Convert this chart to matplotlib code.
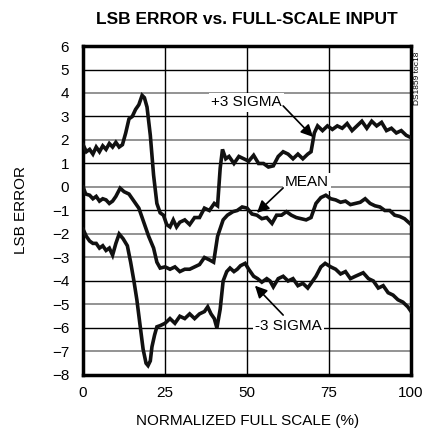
import matplotlib
matplotlib.use("Agg")
import matplotlib.pyplot as plt

plt.rcParams['font.family'] = ['Liberation Sans Narrow', 'Liberation Sans', 'DejaVu Sans']

# ---- data ----
plus3_x = [0, 1, 2, 3, 4, 5, 6, 7, 8, 9, 10, 11, 12, 13, 14, 15, 16, 17, 18, 18.7, 19.5, 20.5,
           21.5, 22.5, 23.5, 24.5, 25.5, 26.5, 27.5, 28.5, 29.5, 31, 32.5, 34, 35.5, 37, 38.5, 40,
           41, 41.8, 42.5, 43.5, 44.5, 46, 47.5, 49, 50.5, 52, 53.5, 55, 56.5, 58, 59.5, 61, 62.5,
           64, 65.5, 67, 68.5, 69.5, 70.5, 71.5, 73, 74.5, 76, 77.5, 79, 80.5, 82, 83.5, 85, 86.5,
           88, 89.5, 91, 92.5, 94, 95.5, 97, 98.5, 100]
plus3_y = [1.8, 1.5, 1.6, 1.4, 1.7, 1.5, 1.75, 1.6, 1.85, 1.7, 1.9, 1.7, 1.8, 2.3, 2.9, 3.0, 3.3,
           3.5, 3.9, 3.8, 3.4, 2.2, 0.5, -0.7, -1.1, -1.2, -1.6, -1.7, -1.4, -1.7, -1.5, -1.4, -1.6,
           -1.3, -1.3, -0.9, -1.0, -0.7, -0.8, 0.8, 1.6, 1.2, 1.3, 1.0, 1.3, 1.2, 1.1, 1.35, 1.0,
           1.0, 0.85, 0.9, 1.3, 1.5, 1.4, 1.2, 1.4, 1.2, 1.4, 1.5, 2.3, 2.6, 2.4, 2.6, 2.45, 2.6,
           2.5, 2.7, 2.4, 2.6, 2.8, 2.5, 2.8, 2.6, 2.75, 2.4, 2.5, 2.3, 2.4, 2.2, 2.1]

mean_x = [0, 0.8, 2, 3, 4, 5, 6, 7, 8, 9, 10, 11.3, 12.5, 14, 15.5, 17, 18.5, 20, 21.5, 22.5,
          23.5, 25, 26.5, 28, 29.5, 31, 32.5, 34, 35.5, 37, 38.5, 39.8, 41, 42.7, 44, 45.7, 47,
          48.5, 50, 51.5, 53, 54.5, 56, 57.6, 59, 60.5, 62, 63.5, 65, 66.5, 68, 69.5, 71, 72.5,
          74, 75.5, 77, 78.5, 80, 81.5, 83, 84.5, 86, 87.5, 89, 90.5, 92, 93.5, 95, 96.5, 98, 100]
mean_y = [0.0, -0.3, -0.35, -0.5, -0.4, -0.6, -0.5, -0.55, -0.7, -0.6, -0.4, -0.05, -0.2, -0.3,
          -0.6, -0.9, -1.5, -2.1, -2.6, -3.2, -3.45, -3.4, -3.5, -3.4, -3.6, -3.5, -3.5, -3.4,
          -3.3, -3.0, -3.1, -3.2, -2.1, -1.4, -1.2, -1.05, -1.0, -0.85, -0.9, -1.15, -1.2, -1.35,
          -1.3, -1.55, -1.2, -1.2, -1.05, -1.2, -1.3, -1.35, -1.4, -1.3, -0.7, -0.45, -0.35,
          -0.5, -0.55, -0.65, -0.6, -0.75, -0.7, -0.65, -0.5, -0.7, -0.8, -0.85, -1.0, -1.0,
          -1.2, -1.25, -1.35, -1.6]

minus3_x = [0, 1, 2, 3, 4, 5, 6, 7, 8, 9, 10, 11, 12.2, 13.5, 14.5, 15.5, 16.4, 17.3, 18.3, 19.2,
            19.8, 20.5, 21, 21.8, 22.5, 23.5, 25, 26.5, 28, 29.5, 31, 32.5, 34, 35.5, 37, 38, 39,
            40, 40.8, 41.8, 42.7, 43.8, 44.8, 46, 47, 48, 49.4, 50.5, 52, 53.2, 54.5, 56, 57, 58,
            59.5, 61, 62.5, 64, 65.5, 67, 68.5, 70, 71, 72.5, 73.8, 75.5, 77, 78.5, 80, 81.5, 83,
            85.4, 87, 88.5, 90, 91.5, 93, 94.5, 96, 97.5, 99, 100]
minus3_y = [-1.8, -2.1, -2.3, -2.4, -2.4, -2.6, -2.5, -2.7, -2.6, -2.9, -2.4, -2.0, -2.2, -2.5,
            -3.2, -4.0, -4.8, -5.8, -6.9, -7.5, -7.6, -7.4, -6.8, -6.3, -5.95, -5.9, -5.8, -5.6,
            -5.8, -5.5, -5.6, -5.4, -5.6, -5.4, -5.3, -5.1, -5.4, -5.6, -6.0, -5.2, -4.0, -3.6,
            -3.45, -3.6, -3.5, -3.35, -3.25, -3.5, -3.8, -3.9, -4.05, -3.9, -4.0, -4.25, -3.9,
            -3.8, -4.0, -3.9, -4.2, -4.1, -4.3, -4.0, -3.8, -3.4, -3.25, -3.4, -3.5, -3.7, -3.6,
            -3.9, -3.8, -3.65, -3.9, -4.0, -4.3, -4.2, -4.5, -4.6, -4.8, -4.9, -5.1, -5.3]

x_ticks = [0, 25, 50, 75, 100]
y_ticks = list(range(-8, 7))
y_grid_black = [5, 3, 1, -1, -4, -6]
y_grid_gray = [4, 2, 0, -2, -3, -5, -7]

title = "LSB ERROR vs. FULL-SCALE INPUT"
xlabel = "NORMALIZED FULL SCALE (%)"
ylabel = "LSB ERROR"

# ---- figure ----
fig = plt.figure(figsize=(4.26, 4.34), dpi=100)
ax = fig.add_axes([0.195, 0.136, 0.770, 0.758])
ax.set_xlim(0, 100)
ax.set_ylim(-8, 6)

for v in y_grid_black:
    ax.axhline(v, color='black', lw=1.0, zorder=1)
for v in y_grid_gray:
    ax.axhline(v, color='#808080', lw=1.2, zorder=1)
for v in [25, 50, 75]:
    ax.axvline(v, color='black', lw=1.0, zorder=1)

for xs, ys in [(plus3_x, plus3_y), (mean_x, mean_y), (minus3_x, minus3_y)]:
    ax.plot(xs, ys, color='#111111', lw=2.6, zorder=3, solid_joinstyle='miter')

ax.set_xticks(x_ticks)
ax.set_yticks(y_ticks)
ax.tick_params(length=0, labelsize=11, pad=8)
ax.tick_params(axis='y', pad=10)
for s in ax.spines.values():
    s.set_linewidth(2.5)
    s.set_color('black')

ax.set_title(title, fontsize=12.5, fontweight='bold', pad=16)
ax.set_xlabel(xlabel, fontsize=11, labelpad=10)
ax.set_ylabel(ylabel, fontsize=11, labelpad=17)

bbox = dict(facecolor='white', edgecolor='none', pad=1.5)
arrowprops = dict(arrowstyle='-|>', color='black', lw=1.2, mutation_scale=18, shrinkA=0, shrinkB=0)
ax.text(49.7, 3.6, "+3 SIGMA", fontsize=11, ha='center', va='center', bbox=bbox, zorder=4)
ax.annotate("", xy=(70.1, 2.13), xytext=(61.0, 3.45), arrowprops=arrowprops, zorder=5)
ax.text(68.3, 0.21, "MEAN", fontsize=11, ha='center', va='center', bbox=bbox, zorder=4)
ax.annotate("", xy=(53.0, -1.1), xytext=(61.0, -0.04), arrowprops=arrowprops, zorder=5)
ax.text(62.6, -5.9, "-3 SIGMA", fontsize=11, ha='center', va='center', bbox=bbox, zorder=4)
ax.annotate("", xy=(52.4, -4.2), xytext=(61.0, -5.45), arrowprops=arrowprops, zorder=5)

fig.text(0.979, 0.82, "DS1859 toc18", fontsize=6, rotation=90, ha='center', va='center')

fig.savefig("out.png", dpi=100)
